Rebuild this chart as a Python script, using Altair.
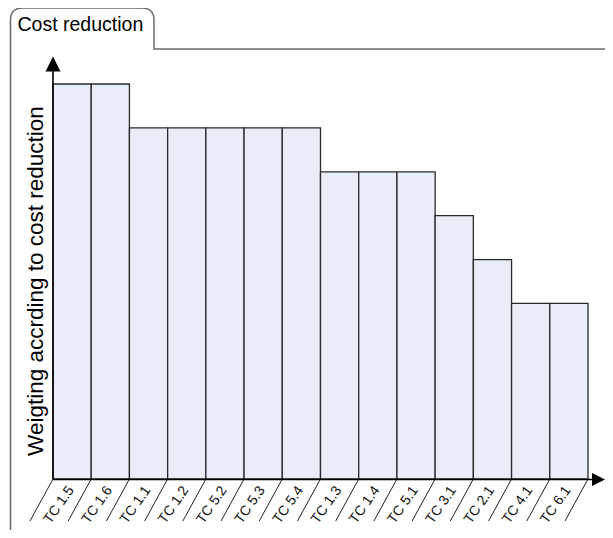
import altair as alt
import pandas as pd

categories = ["TC 1.5", "TC 1.6", "TC 1.1", "TC 1.2", "TC 5.2", "TC 5.3", "TC 5.4",
              "TC 1.3", "TC 1.4", "TC 5.1", "TC 3.1", "TC 2.1", "TC 4.1", "TC 6.1"]
weights = [9, 9, 8, 8, 8, 8, 8, 7, 7, 7, 6, 5, 4, 4]
y_title = "Weigting accrding to cost reduction"
tab_title = "Cost reduction"

df = pd.DataFrame({"cat": categories, "w": weights})
one = pd.DataFrame({"a": [0]})

W, H = 597, 522
X0, X1 = 45, 580
BASE, TOP = 471, 76
half = (X1 - X0) / len(categories) / 2
FONT = "Arial, Liberation Sans, sans-serif"

xs = alt.Scale(domain=categories, range=[X0, X1], paddingInner=0, paddingOuter=0)
ys = alt.Scale(domain=[0, 9], range=[BASE, TOP], nice=False, zero=True)

base = alt.Chart(df)

bars = base.mark_bar(fill="#e8edf7", stroke="#2a2a2a", strokeWidth=1.3).encode(
    x=alt.X("cat:N", scale=xs, axis=None, sort=categories),
    y=alt.Y("w:Q", scale=ys, axis=None),
)

slants = base.mark_rule(color="#222", strokeWidth=1, xOffset=-half, x2Offset=-half - 23).encode(
    x=alt.X("cat:N", scale=xs, axis=None, sort=categories),
    x2=alt.X2("cat"),
    y=alt.value(BASE),
    y2=alt.value(BASE + 42),
)
slant_end = base.transform_filter(alt.datum.cat == categories[-1]).mark_rule(
    color="#222", strokeWidth=1, xOffset=half, x2Offset=half - 23).encode(
    x=alt.X("cat:N", scale=xs, axis=None, sort=categories),
    x2=alt.X2("cat"),
    y=alt.value(BASE),
    y2=alt.value(BASE + 42),
)

labels = base.mark_text(angle=305, font=FONT, fontSize=14, color="#111",
                        align="center", baseline="middle", xOffset=-13).encode(
    x=alt.X("cat:N", scale=xs, axis=None, sort=categories),
    y=alt.value(BASE + 26),
    text="cat:N",
)

c1 = alt.Chart(one)
yaxis = c1.mark_rule(color="black", strokeWidth=1.6).encode(
    x=alt.value(X0), y=alt.value(BASE), y2=alt.value(63))
yarrow = c1.mark_point(shape="M0,-1L1,1L-1,1Z", filled=True, fill="black", strokeWidth=0,
                       size=225, opacity=1).encode(x=alt.value(X0), y=alt.value(56))
xaxis = c1.mark_rule(color="black", strokeWidth=1.6).encode(
    x=alt.value(X0), x2=alt.value(586), y=alt.value(BASE + 0.5))
xarrow = c1.mark_point(shape="M1,0L-1,-1L-1,1Z", filled=True, fill="black", strokeWidth=0,
                       size=169, opacity=1).encode(x=alt.value(590.5), y=alt.value(BASE + 0.5))

frame = c1.mark_point(
    shape="M2.5,540L2.5,12Q2.5,0 14.5,0L134,0Q146,0 146,12L146,41L610,41",
    filled=False, stroke="#6a6a6a", strokeWidth=1.5, size=4, opacity=1,
).encode(x=alt.value(0), y=alt.value(0))

tab_text = c1.mark_text(font=FONT, fontSize=19.5, align="left", baseline="alphabetic",
                        color="black").encode(
    x=alt.value(9.5), y=alt.value(23), text=alt.value(tab_title))

ytitle = c1.mark_text(font=FONT, fontSize=22.5, angle=270, align="center",
                      baseline="alphabetic", color="black").encode(
    x=alt.value(35), y=alt.value(273), text=alt.value(y_title))

chart = alt.layer(frame, tab_text, ytitle, bars, slants, slant_end, labels,
                  yaxis, yarrow, xaxis, xarrow).properties(
    width=W, height=H, padding=0, autosize=alt.AutoSizeParams(type="none"),
    background="white",
).configure_view(stroke=None)

chart.save("out.html", embed_options={"renderer": "svg", "actions": False})
